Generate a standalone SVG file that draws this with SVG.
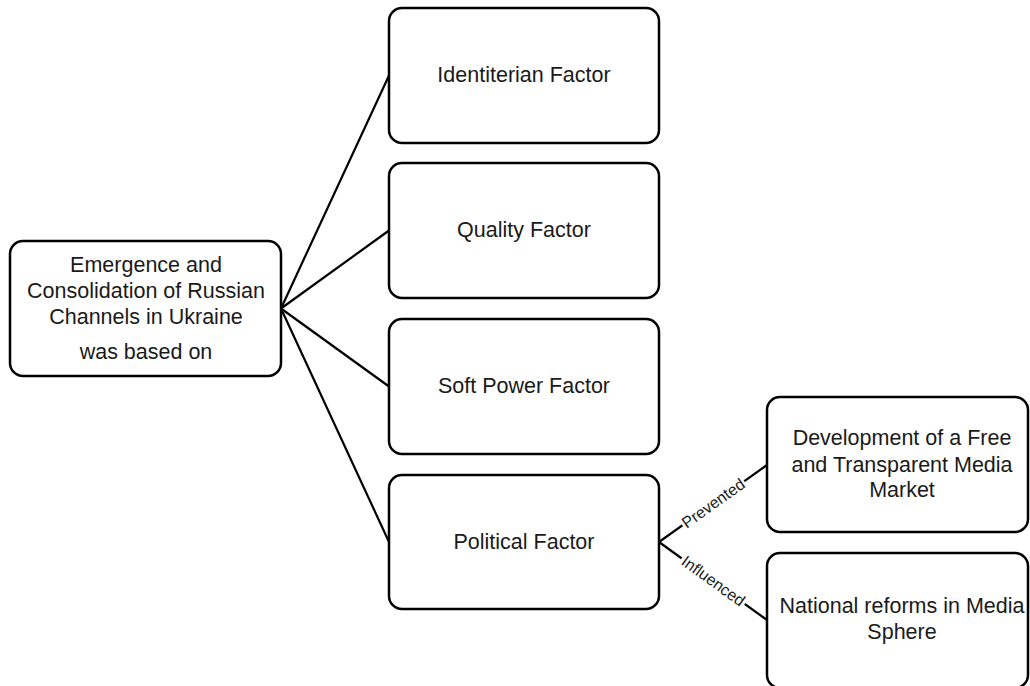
<svg xmlns="http://www.w3.org/2000/svg" width="1030" height="686" viewBox="0 0 1030 686">
<style>
.box{fill:#fff;stroke:#000;stroke-width:2.5}
.t{font-family:"Liberation Sans",Arial,sans-serif;font-size:21.5px;fill:#1a1a1a;text-anchor:middle}
.lab{font-family:"Liberation Sans",Arial,sans-serif;font-size:16px;fill:#1a1a1a;text-anchor:middle}
.c{stroke:#000;stroke-width:2.2;fill:none}
</style>
<rect width="1030" height="686" fill="#fff"/>
<g id="connectors">
<line class="c" x1="281" y1="308.5" x2="389" y2="75.5"/>
<line class="c" x1="281" y1="308.5" x2="389" y2="230.5"/>
<line class="c" x1="281" y1="308.5" x2="389" y2="386.5"/>
<line class="c" x1="281" y1="308.5" x2="389" y2="542"/>
<line class="c" x1="659" y1="542" x2="767" y2="465"/>
<line class="c" x1="659" y1="542" x2="767" y2="620"/>
<g transform="translate(713.3,503.3) rotate(-35.5)">
<rect x="-38" y="-9" width="76" height="18" fill="#fff"/>
<text class="lab" x="0" y="5.5">Prevented</text>
</g>
<g transform="translate(713.3,581) rotate(35.8)">
<rect x="-39" y="-9" width="78" height="18" fill="#fff"/>
<text class="lab" x="0" y="5.5">Influenced</text>
</g>
</g>
<g id="root">
<rect class="box" x="10" y="241" width="271" height="135" rx="13"/>
<text class="t" x="146" y="271.5">Emergence and</text>
<text class="t" x="146" y="297.5">Consolidation of Russian</text>
<text class="t" x="146" y="323.5">Channels in Ukraine</text>
<text class="t" x="146" y="358.5">was based on</text>
</g>
<g id="identiterian">
<rect class="box" x="389" y="8" width="270" height="135" rx="13"/>
<text class="t" x="524" y="82">Identiterian Factor</text>
</g>
<g id="quality">
<rect class="box" x="389" y="163" width="270" height="135" rx="13"/>
<text class="t" x="524" y="237">Quality Factor</text>
</g>
<g id="softpower">
<rect class="box" x="389" y="319" width="270" height="135" rx="13"/>
<text class="t" x="524" y="393">Soft Power Factor</text>
</g>
<g id="political">
<rect class="box" x="389" y="475" width="270" height="134" rx="13"/>
<text class="t" x="524" y="548.5">Political Factor</text>
</g>
<g id="development">
<rect class="box" x="767" y="397" width="261" height="135" rx="13"/>
<text class="t" x="902" y="445">Development of a Free</text>
<text class="t" x="902" y="471.5">and Transparent Media</text>
<text class="t" x="902" y="497">Market</text>
</g>
<g id="national">
<rect class="box" x="767" y="553" width="261" height="135" rx="13"/>
<text class="t" x="902" y="612.5">National reforms in Media</text>
<text class="t" x="902" y="639">Sphere</text>
</g>
</svg>
